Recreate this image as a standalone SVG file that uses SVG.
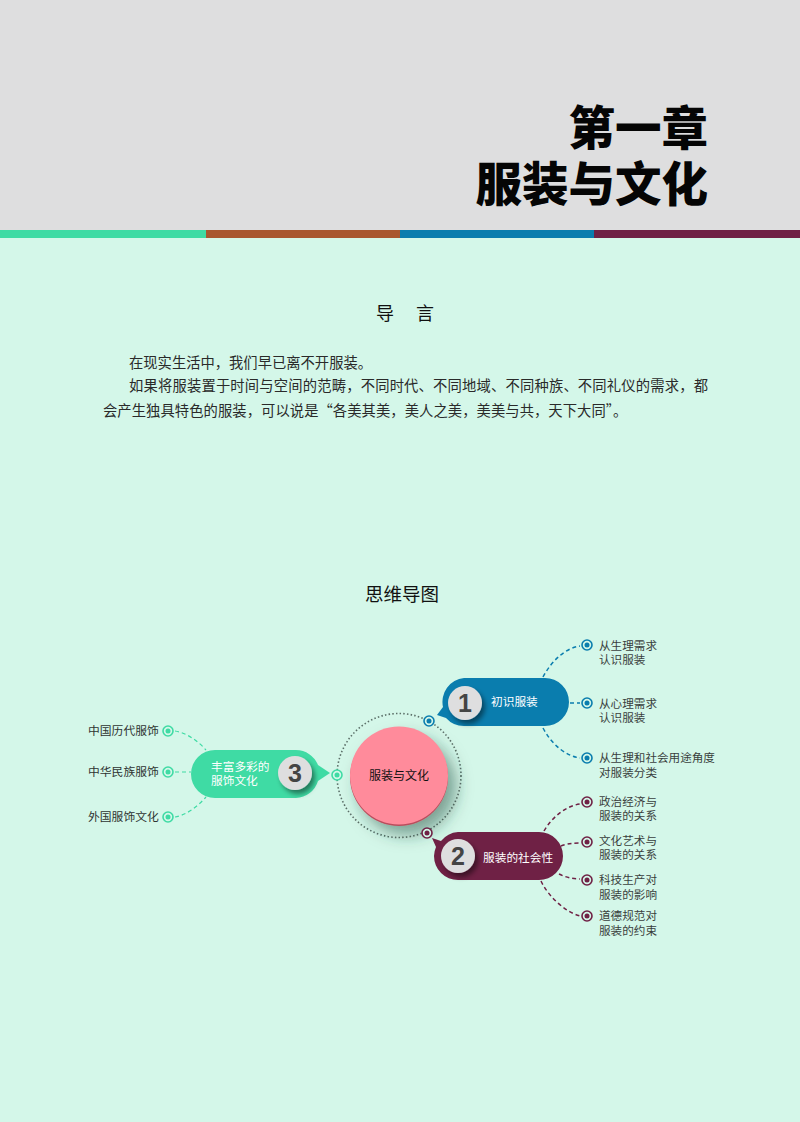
<svg xmlns="http://www.w3.org/2000/svg" width="800" height="1122" viewBox="0 0 800 1122">
<defs>
<style>
text{font-family:"Noto Sans CJK SC","Liberation Sans",sans-serif;}
.title{font-size:46.5px;font-weight:900;fill:#050505;text-anchor:end;}
.body{font-size:14.3px;fill:#2a2a2a;}
.leaf{font-size:11.6px;fill:#3a3f3d;}
.leafl{font-size:11.8px;fill:#2f3432;}
.lab{font-size:11.7px;fill:#fff;}
.num{font-family:"Liberation Sans",sans-serif;font-size:25px;font-weight:700;fill:#444;text-anchor:middle;}
.blue{stroke:#0a7dae;fill:none;stroke-width:1.5;stroke-dasharray:4 3;}
.plum{stroke:#6f2145;fill:none;stroke-width:1.5;stroke-dasharray:4 3;}
.green{stroke:#3fdba4;fill:none;stroke-width:1.2;stroke-dasharray:4 3;}
.dot{fill:#d4f7e9;stroke-width:1.6;}
</style>
<filter id="sh" x="-40%" y="-40%" width="200%" height="200%"><feDropShadow dx="3" dy="4" stdDeviation="2.5" flood-color="#000" flood-opacity=".45"/></filter>
<filter id="big" x="-40%" y="-40%" width="200%" height="200%"><feDropShadow dx="8" dy="9" stdDeviation="8" flood-color="#1b4a3a" flood-opacity=".5"/></filter>
</defs>
<rect id="background" width="800" height="1122" fill="#d4f7e9"/>
<g id="header">
<rect width="800" height="230" fill="#dededf"/>
<rect y="230" width="206" height="8" fill="#3fdba4"/>
<rect x="206" y="230" width="194" height="8" fill="#a9572f"/>
<rect x="400" y="230" width="194" height="8" fill="#0a7dae"/>
<rect x="594" y="230" width="206" height="8" fill="#6f2145"/>
<text class="title" x="708" y="145">第一章</text>
<text class="title" x="708" y="201">服装与文化</text>
</g>
<g id="intro">
<text x="376" y="320" font-size="18" fill="#111">导</text>
<text x="416" y="320" font-size="18" fill="#111">言</text>
<text class="body" x="129" y="368">在现实生活中，我们早已离不开服装。</text>
<text class="body" x="129" y="391" textLength="579">如果将服装置于时间与空间的范畴，不同时代、不同地域、不同种族、不同礼仪的需求，都</text>
<text class="body" x="103" y="416" letter-spacing=".07">会产生独具特色的服装，可以说是“各美其美，美人之美，美美与共，天下大同”。</text>
<text x="365" y="601" font-size="18.5" fill="#111">思维导图</text>
</g>
<g id="connectors">
<path class="blue" d="M543 677C552 660 566 648 580 646"/>
<path class="blue" d="M570 703H580"/>
<path class="blue" d="M543 728C552 745 566 756 580 758"/>
<path class="plum" d="M544 831C552 817 566 806 580 804"/>
<path class="plum" d="M561 846C566 844 572 843 580 843"/>
<path class="plum" d="M559 874C565 877 572 879 580 879"/>
<path class="plum" d="M541 881C548 896 565 912 580 916"/>
<path class="green" d="M175 731C187 733 198 741 206 750"/>
<path class="green" d="M175 772H191"/>
<path class="green" d="M175 817C187 815 198 806 206 797"/>
<circle cx="399" cy="775.5" r="62" fill="none" stroke="#5b6f68" stroke-width="1.6" stroke-dasharray="1.5 2.2"/>
</g>
<g id="center">
<circle cx="399" cy="777" r="49" fill="#b94e5d" filter="url(#big)"/>
<circle cx="399" cy="775.5" r="49" fill="#ff8b9b"/>
<text x="399" y="780" font-size="12" fill="#111" text-anchor="middle">服装与文化</text>
</g>
<g id="node1">
<path d="M437 715L443 707A24 24 0 0 1 464 678H545A24 24 0 0 1 545 726H464A24 24 0 0 1 446 718Z" fill="#0a7dae"/>
<circle cx="465" cy="703" r="17" fill="#dededf" filter="url(#sh)"/>
<text class="num" x="465" y="712">1</text>
<text class="lab" x="491" y="706">初识服装</text>
</g>
<g id="node2">
<path d="M432 838L441 841A24 24 0 0 1 458 832H539A24 24 0 0 1 539 880H458A24 24 0 0 1 434 856A24 24 0 0 1 436 847Z" fill="#6f2145"/>
<circle cx="458" cy="856" r="17" fill="#dededf" filter="url(#sh)"/>
<text class="num" x="458" y="865">2</text>
<text class="lab" x="483" y="862">服装的社会性</text>
</g>
<g id="node3">
<path d="M191 774A24 24 0 0 1 215 750H296A24 24 0 0 1 318 765L330 773L318 781A24 24 0 0 1 296 798H215A24 24 0 0 1 191 774Z" fill="#3fdba4"/>
<circle cx="295" cy="773" r="17" fill="#dededf" filter="url(#sh)"/>
<text class="num" x="295" y="782">3</text>
<text class="lab" x="211" y="771">丰富多彩的</text>
<text class="lab" x="211" y="785">服饰文化</text>
</g>
<g id="dots">
<g stroke="#0a7dae"><circle class="dot" cx="429" cy="721" r="5"/><circle class="dot" cx="587" cy="645" r="5"/><circle class="dot" cx="587" cy="703" r="5"/><circle class="dot" cx="587" cy="758" r="5"/></g>
<g fill="#0a7dae"><circle cx="429" cy="721" r="2.5"/><circle cx="587" cy="645" r="2.5"/><circle cx="587" cy="703" r="2.5"/><circle cx="587" cy="758" r="2.5"/></g>
<g stroke="#6f2145"><circle class="dot" cx="427" cy="833" r="5"/><circle class="dot" cx="587" cy="802" r="5"/><circle class="dot" cx="587" cy="842" r="5"/><circle class="dot" cx="587" cy="880" r="5"/><circle class="dot" cx="587" cy="916" r="5"/></g>
<g fill="#6f2145"><circle cx="427" cy="833" r="2.5"/><circle cx="587" cy="802" r="2.5"/><circle cx="587" cy="842" r="2.5"/><circle cx="587" cy="880" r="2.5"/><circle cx="587" cy="916" r="2.5"/></g>
<g stroke="#3fdba4"><circle class="dot" cx="337" cy="775" r="5"/><circle class="dot" cx="168" cy="731" r="5"/><circle class="dot" cx="168" cy="772" r="5"/><circle class="dot" cx="168" cy="817" r="5"/></g>
<g fill="#3fdba4"><circle cx="337" cy="775" r="2.5"/><circle cx="168" cy="731" r="2.5"/><circle cx="168" cy="772" r="2.5"/><circle cx="168" cy="817" r="2.5"/></g>
</g>
<g id="leaves">
<text class="leaf" x="599" y="650">从生理需求</text><text class="leaf" x="599" y="664">认识服装</text>
<text class="leaf" x="599" y="708">从心理需求</text><text class="leaf" x="599" y="722">认识服装</text>
<text class="leaf" x="599" y="762">从生理和社会用途角度</text><text class="leaf" x="599" y="777">对服装分类</text>
<text class="leaf" x="599" y="806">政治经济与</text><text class="leaf" x="599" y="820">服装的关系</text>
<text class="leaf" x="599" y="845">文化艺术与</text><text class="leaf" x="599" y="859">服装的关系</text>
<text class="leaf" x="599" y="884">科技生产对</text><text class="leaf" x="599" y="899">服装的影响</text>
<text class="leaf" x="599" y="920">道德规范对</text><text class="leaf" x="599" y="935">服装的约束</text>
<text class="leafl" x="88" y="735">中国历代服饰</text>
<text class="leafl" x="88" y="776">中华民族服饰</text>
<text class="leafl" x="88" y="821">外国服饰文化</text>
</g>
</svg>
